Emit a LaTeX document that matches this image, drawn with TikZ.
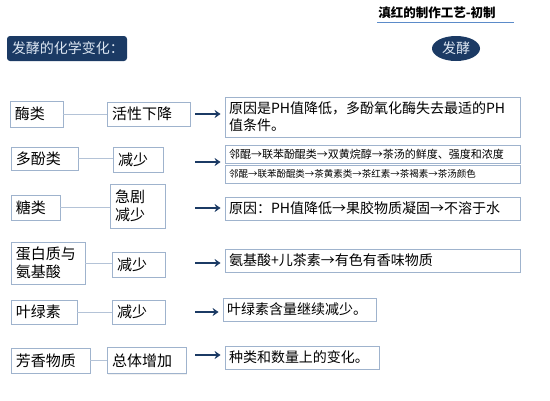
\documentclass[tikz,border=0pt]{standalone}
\usepackage{fontspec}
\setmainfont{Noto Sans CJK SC}
\usetikzlibrary{arrows.meta,shapes.geometric,shadows}
\definecolor{navy}{HTML}{1B3A64}
\definecolor{boxline}{HTML}{9FB3CD}
\definecolor{linkline}{HTML}{B4C3D7}
\definecolor{titleline}{HTML}{5B8BC9}
\definecolor{headtext}{HTML}{DCE6F2}

\begin{document}
\begin{tikzpicture}[x=1pt, y=-1pt,
  item/.style={draw=boxline, line width=0.8pt, fill=white, align=left, inner xsep=5pt, inner ysep=1pt,
    font=\fontsize{15}{18}\selectfont, drop shadow={opacity=0.12, shadow xshift=1pt, shadow yshift=-1pt}},
  result/.style={item, inner xsep=4pt, font=\fontsize{14}{17}\selectfont},
  link/.style={draw=linkline, line width=1pt},
  arr/.style={draw=navy, line width=2.6pt, -{Stealth[length=6pt, width=8pt]}, shorten >=4pt}]

\useasboundingbox (0,0) rectangle (550,400);

% title
\node[font=\bfseries\fontsize{12.5}{14}\selectfont] (tt) at (437,13) {滇红的制作工艺-初制};
\coordinate (ul1) at (377,22);
\coordinate (ul2) at (514,22);
\draw[titleline, line width=1pt] (ul1) -- (ul2);

\node[fill=navy, rounded corners=3pt, text=headtext, align=left, text width=110pt, minimum height=25pt,
  inner xsep=5pt, font=\fontsize{14}{16}\selectfont] (hd) at (67,48.5) {发酵的化学变化：};
\node[ellipse, fill=navy, text=headtext, minimum width=48pt, minimum height=25pt, inner sep=0pt,
  font=\fontsize{14}{16}\selectfont] (fj) at (456,48.5) {发酵};

% 酶类
\node[item, text width=43pt, minimum height=26pt] (e1) at (36.5,114) {酶类};
\node[item, text width=73pt, minimum height=24pt] (c1) at (148.5,114) {活性下降};
\node[result, text width=287pt, minimum height=40pt] (r1) at (372.5,117) {原因是PH值降低，多酚氧化酶失去最适的PH\\值条件。};
\coordinate (a1) at (195,114);
\draw[link] (e1) -- (c1);
\draw[arr] (a1) -- (r1.west |- a1);

% 多酚类
\node[item, text width=57pt, minimum height=23pt] (e2) at (44.5,158.5) {多酚类};
\node[item, text width=40pt, minimum height=25pt] (c2) at (138,159.5) {减少};
\node[result, text width=287pt, minimum height=18pt, font=\fontsize{11}{13}\selectfont] (r2a) at (372.5,154) {邻醌→联苯酚醌类→双黄烷醇→茶汤的鲜度、强度和浓度};
\node[result, text width=287pt, minimum height=18pt, font=\fontsize{9.5}{11}\selectfont] (r2b) at (372.5,174) {邻醌→联苯酚醌类→茶黄素类→茶红素→茶褐素→茶汤颜色};
\coordinate (a2) at (195,162);
\draw[link] (e2) -- (e2 -| c2.west);
\draw[arr] (a2) -- (r2a.west |- a2);

% 糖类
\node[item, text width=39pt, minimum height=25pt] (e3) at (35.5,207.5) {糖类};
\node[item, text width=45pt, minimum height=44pt] (c3) at (137.5,206) {急剧\\减少};
\node[result, text width=287pt, minimum height=23pt] (r3) at (372.5,208.5) {原因：PH值降低→果胶物质凝固→不溶于水};
\coordinate (a3) at (195,208);
\draw[link] (e3) -- (e3 -| c3.west);
\draw[arr] (a3) -- (r3.west |- a3);

% 蛋白质与氨基酸
\node[item, text width=64pt, minimum height=42pt] (e4) at (48,263) {蛋白质与\\氨基酸};
\node[item, text width=43pt, minimum height=25pt] (c4) at (138.5,264.5) {减少};
\node[result, text width=287pt, minimum height=23pt] (r4) at (372.5,260.5) {氨基酸+儿茶素→有色有香味物质};
\coordinate (a4) at (195,263);
\draw[link] (e4) -- (e4 -| c4.west);
\draw[arr] (a4) -- (r4.west |- a4);

% 叶绿素
\node[item, text width=56pt, minimum height=24pt] (e5) at (44,312) {叶绿素};
\node[item, text width=43pt, minimum height=24pt] (c5) at (138.5,312) {减少};
\node[result, text width=145pt, minimum height=23pt] (r5) at (299.5,309.5) {叶绿素含量继续减少。};
\coordinate (a5) at (195,312);
\draw[link] (e5) -- (c5);
\draw[arr] (a5) -- (r5.west |- a5);

% 芳香物质
\node[item, text width=69pt, minimum height=25pt] (e6) at (50.5,360.5) {芳香物质};
\node[item, text width=69pt, minimum height=26pt] (c6) at (146.5,360.5) {总体增加};
\node[result, text width=146pt, minimum height=23pt] (r6) at (302,357.5) {种类和数量上的变化。};
\coordinate (a6) at (195,355);
\draw[link] (e6) -- (c6);
\draw[arr] (a6) -- (r6.west |- a6);

\end{tikzpicture}
\end{document}
